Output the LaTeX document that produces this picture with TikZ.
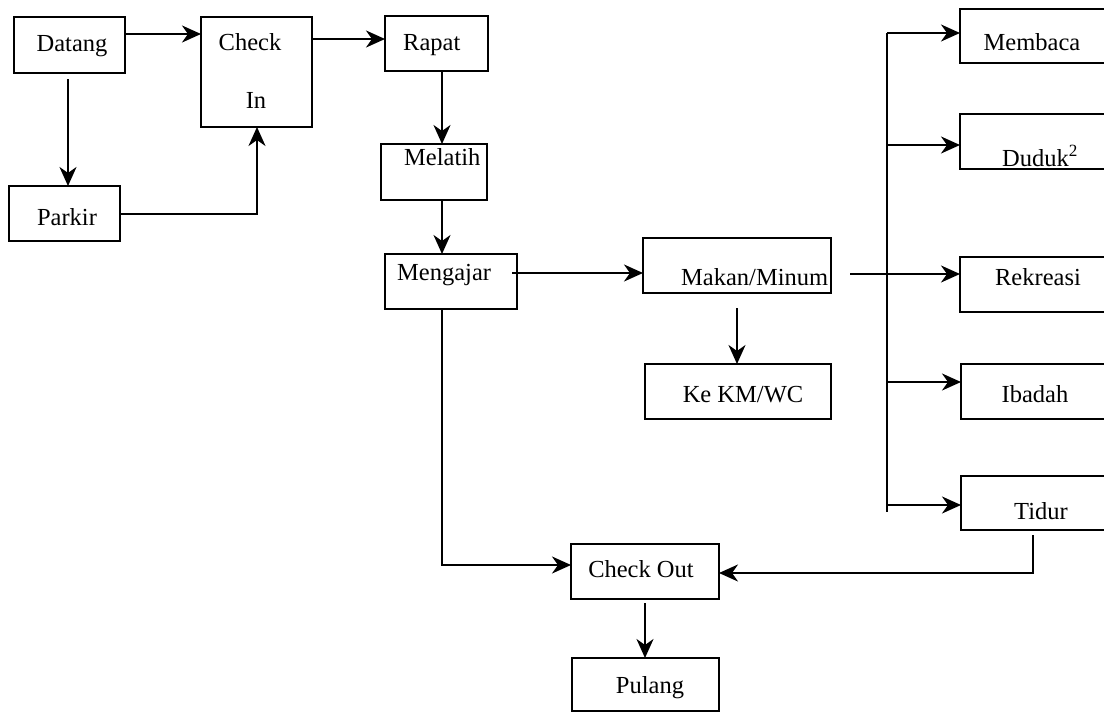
\documentclass[tikz,border=0pt]{standalone}
\usepackage{fontspec}
\setmainfont{Liberation Serif}
\usetikzlibrary{arrows.meta}
\tikzset{
  box/.style={draw, line width=2.2pt, rectangle, inner sep=0pt, outer sep=0pt, anchor=north west},
  lbl/.style={font=\fontsize{24.5}{29}\selectfont, inner sep=0pt},
  conn/.style={line width=2.2pt},
  arr/.style={conn, -{Stealth[length=19pt, width=17pt, inset=6pt]}}
}
\begin{document}
\begin{tikzpicture}[x=1pt, y=-1pt]
\useasboundingbox (0,0) rectangle (1104,712);
\clip (0,0) rectangle (1104,712);

% boxes
\node[box, minimum width=111pt, minimum height=56pt]  (datang)   at (14,17)   {};
\node[box, minimum width=111pt, minimum height=110pt] (checkin)  at (201,17)  {};
\node[box, minimum width=111pt, minimum height=55pt]  (parkir)   at (9,186)   {};
\node[box, minimum width=103pt, minimum height=55pt]  (rapat)    at (385,16)  {};
\node[box, minimum width=106pt, minimum height=56pt]  (melatih)  at (381,144) {};
\node[box, minimum width=132pt, minimum height=55pt]  (mengajar) at (385,254) {};
\node[box, minimum width=188pt, minimum height=55pt]  (makan)    at (643,238) {};
\node[box, minimum width=186pt, minimum height=55pt]  (kmwc)     at (645,364) {};
\node[box, minimum width=148pt, minimum height=55pt]  (checkout) at (571,544) {};
\node[box, minimum width=147pt, minimum height=53pt]  (pulang)   at (572,658) {};
\node[box, minimum width=160pt, minimum height=54pt]  (membaca)  at (960,9)   {};
\node[box, minimum width=160pt, minimum height=55pt]  (duduk)    at (960,114) {};
\node[box, minimum width=160pt, minimum height=55pt]  (rekreasi) at (960,257) {};
\node[box, minimum width=160pt, minimum height=55pt]  (ibadah)   at (961,364) {};
\node[box, minimum width=160pt, minimum height=54pt]  (tidur)    at (961,476) {};

% labels
\node[lbl, anchor=base]      (tdatang)   at (72,51)    {Datang};
\node[lbl, anchor=base]      (tcheck)    at (250,50)   {Check};
\node[lbl, anchor=base]      (tin)       at (256,108)  {In};
\node[lbl, anchor=base]      (tparkir)   at (67,225)   {Parkir};
\node[lbl, anchor=base west] (trapat)    at (403,50)   {Rapat};
\node[lbl, anchor=base west] (tmelatih)  at (404,165)  {Melatih};
\node[lbl, anchor=base west] (tmengajar) at (397,280)  {Mengajar};
\node[lbl, anchor=base west] (tmakan)    at (681,285)  {Makan/Minum};
\node[lbl, anchor=base]      (tkmwc)     at (743,402)  {Ke KM/WC};
\node[lbl, anchor=base]      (tcheckout) at (641,577)  {Check Out};
\node[lbl, anchor=base]      (tpulang)   at (650,693)  {Pulang};
\node[lbl, anchor=base]      (tmembaca)  at (1032,50)  {Membaca};
\node[lbl, anchor=base west] (tduduk)    at (1002,166) {Duduk\textsuperscript{2}};
\node[lbl, anchor=base]      (trekreasi) at (1038,285) {Rekreasi};
\node[lbl, anchor=base]      (tibadah)   at (1035,402) {Ibadah};
\node[lbl, anchor=base]      (ttidur)    at (1041,519) {Tidur};

% branching point of the leisure activities
\coordinate (bustop) at (887,33);
\coordinate (busbot) at (887,512);

% connectors
\draw[arr] (datang.east |- 128,34) -- (checkin.west |- 0,34);
\draw[arr] (checkin.east |- 0,39) -- (rapat.west |- 0,39);
\draw[arr] (68,79) -- (68,0 |- parkir.north);
\draw[arr] (parkir.east |- 123,214) -| (checkin.south -| 257,0);
\draw[arr] (442,0 |- rapat.south) -- (442,0 |- melatih.north);
\draw[arr] (442,0 |- melatih.south) -- (442,0 |- mengajar.north);
\draw[arr] (512,273) -- (makan.west |- 0,273);
\draw[arr] (737,308) -- (737,0 |- kmwc.north);
\draw[arr] (850,274) -- (rekreasi.west |- 0,274);
\draw[conn] (bustop) -- (busbot);
\draw[arr] (bustop) -- (membaca.west |- bustop);
\draw[arr] (887,145) -- (duduk.west |- 0,145);
\draw[arr] (887,382) -- (ibadah.west |- 0,382);
\draw[arr] (887,505) -- (tidur.west |- 0,505);
\draw[arr] (442,0 |- mengajar.south) |- (checkout.west |- 0,565);
\draw[arr] (1033,535) |- (checkout.east |- 0,573);
\draw[arr] (645,603) -- (645,0 |- pulang.north);
\end{tikzpicture}
\end{document}
